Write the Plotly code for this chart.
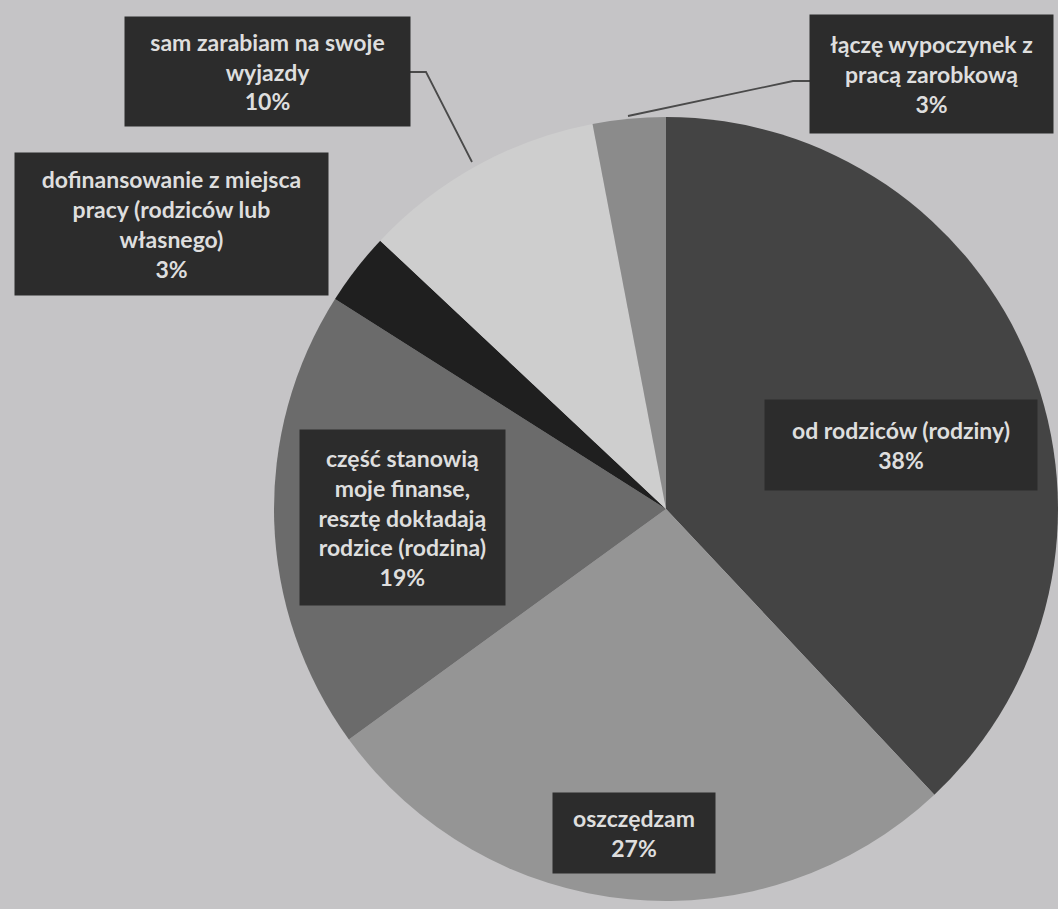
import plotly.graph_objects as go

# ---- data ----
categories = [
    "od rodziców (rodziny)",
    "oszczędzam",
    "część stanowią moje finanse, resztę dokładają rodzice (rodzina)",
    "dofinansowanie z miejsca pracy (rodziców lub własnego)",
    "sam zarabiam na swoje wyjazdy",
    "łączę wypoczynek z pracą zarobkową",
]
values = [38, 27, 19, 3, 10, 3]
label_lines = [
    ["od rodziców (rodziny)"],
    ["oszczędzam"],
    ["część stanowią", "moje finanse,", "resztę dokładają", "rodzice (rodzina)"],
    ["dofinansowanie z miejsca", "pracy (rodziców lub", "własnego)"],
    ["sam zarabiam na swoje", "wyjazdy"],
    ["łączę wypoczynek z", "pracą zarobkową"],
]
slice_colors = ["#444444", "#959595", "#6b6b6b", "#1f1f1f", "#cecece", "#8b8b8b"]

# ---- layout constants (pixels) ----
W, H = 1058, 909
cx, cy, r = 666, 509, 392

def px(x):
    return x / W

def py(y):
    return 1 - y / H

# label box centres and sizes (pixels)
box_pos = [(901, 445), (634, 833), (402, 517), (171, 224), (267, 72), (931, 74)]
box_size = [(272, 90), (162, 80), (205, 175), (313, 142), (285, 109), (243, 118)]

fig = go.Figure(
    go.Pie(
        labels=categories,
        values=values,
        sort=False,
        direction="clockwise",
        rotation=0,
        marker=dict(colors=slice_colors, line=dict(width=0)),
        textinfo="none",
        hoverinfo="label+percent",
        showlegend=False,
        domain=dict(x=[px(cx - r), min(1.0, px(cx + r))],
                    y=[max(0.0, py(cy + r)), py(cy - r)]),
    )
)

annotations = []
for lines, v, (bx, by), (bw, bh) in zip(label_lines, values, box_pos, box_size):
    text = "<br>".join(lines + [f"{v}%"])
    annotations.append(dict(
        x=px(bx), y=py(by), xref="paper", yref="paper",
        xanchor="center", yanchor="middle",
        text=text, showarrow=False,
        width=bw, height=bh, align="center", valign="middle",
        bgcolor="#2c2c2c", borderpad=0,
        font=dict(family="Lato", size=23, color="#dedede", weight="bold"),
    ))

def path(points):
    d = "M " + " L ".join(f"{px(x)},{py(y)}" for x, y in points)
    return dict(type="path", path=d, xref="paper", yref="paper",
                line=dict(color="#4a4a4a", width=1.8))

shapes = [
    path([(410, 72), (426, 72), (472, 162)]),
    path([(810, 81), (793, 81), (628, 116)]),
]

fig.update_layout(
    width=W, height=H,
    margin=dict(l=0, r=0, t=0, b=0),
    paper_bgcolor="#c5c4c6",
    plot_bgcolor="#c5c4c6",
    annotations=annotations,
    shapes=shapes,
)

fig.write_html(
    "out.html",
    config={"displayModeBar": False},
    post_script="document.body.style.margin='0';document.body.style.overflow='hidden';",
)
